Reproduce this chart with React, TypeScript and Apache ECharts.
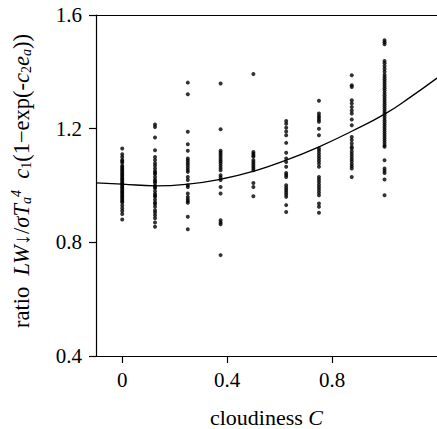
import React, { useEffect, useRef } from "react";
import * as echarts from "echarts";

const xTicks = [0, 0.4, 0.8];
const yTicks = [0.4, 0.8, 1.2, 1.6];

const cloud0 = [1.13, 1.11, 1.1, 1.09, 1.085, 1.08, 1.07, 1.065, 1.06, 1.055, 1.05, 1.045, 1.04, 1.035, 1.03, 1.025, 1.02, 1.015, 1.01, 1.005, 1.0, 0.995, 0.99, 0.985, 0.98, 0.975, 0.97, 0.965, 0.96, 0.955, 0.95, 0.945, 0.94, 0.93, 0.92, 0.91, 0.9, 0.88];
const cloud1 = [1.215, 1.206, 1.169, 1.124, 1.1, 1.09, 1.078, 1.07, 1.06, 1.05, 1.045, 1.04, 1.03, 1.02, 1.015, 1.01, 1.0, 0.995, 0.99, 0.98, 0.97, 0.965, 0.96, 0.95, 0.94, 0.935, 0.925, 0.913, 0.905, 0.895, 0.885, 0.87, 0.855];
const cloud2 = [1.362, 1.321, 1.189, 1.145, 1.122, 1.095, 1.088, 1.08, 1.072, 1.063, 1.055, 1.048, 1.03, 1.019, 1.001, 0.995, 0.972, 0.96, 0.952, 0.945, 0.939, 0.89, 0.846];
const cloud3 = [1.359, 1.198, 1.122, 1.115, 1.108, 1.1, 1.092, 1.085, 1.078, 1.07, 1.062, 1.054, 1.036, 1.028, 1.019, 0.995, 0.972, 0.878, 0.87, 0.864, 0.755];
const cloud4 = [1.392, 1.118, 1.112, 1.106, 1.101, 1.089, 1.082, 1.075, 1.068, 1.061, 1.054, 1.009, 0.995, 0.962];
const cloud5 = [1.227, 1.217, 1.203, 1.19, 1.177, 1.15, 1.115, 1.095, 1.083, 1.066, 1.044, 1.037, 1.03, 1.001, 0.992, 0.984, 0.976, 0.968, 0.96, 0.931, 0.907];
const cloud6 = [1.298, 1.253, 1.245, 1.238, 1.231, 1.224, 1.2, 1.177, 1.13, 1.122, 1.113, 1.104, 1.095, 1.086, 1.077, 1.066, 1.03, 1.021, 1.012, 1.003, 0.994, 0.985, 0.975, 0.966, 0.937, 0.925, 0.904];
const cloud7 = [1.388, 1.353, 1.347, 1.3, 1.289, 1.276, 1.264, 1.253, 1.232, 1.212, 1.171, 1.16, 1.148, 1.136, 1.13, 1.12, 1.111, 1.102, 1.093, 1.085, 1.076, 1.068, 1.06, 1.03];
const cloud8 = [1.511, 1.504, 1.497, 1.438, 1.43, 1.42, 1.41, 1.4, 1.39, 1.382, 1.374, 1.366, 1.358, 1.35, 1.342, 1.334, 1.326, 1.318, 1.31, 1.302, 1.294, 1.286, 1.278, 1.27, 1.262, 1.254, 1.246, 1.238, 1.23, 1.222, 1.214, 1.206, 1.198, 1.19, 1.182, 1.174, 1.166, 1.158, 1.15, 1.142, 1.136, 1.089, 1.06, 1.052, 1.044, 1.021, 0.966];

const cloudLevels = [0, 0.125, 0.25, 0.375, 0.5, 0.625, 0.75, 0.875, 1.0];
const ratioColumns = [cloud0, cloud1, cloud2, cloud3, cloud4, cloud5, cloud6, cloud7, cloud8];

const fitX = [-0.1, 0, 0.125, 0.25, 0.375, 0.5, 0.625, 0.75, 0.875, 1.0, 1.1, 1.2];
const fitY = [1.009, 1.005, 0.999, 1.005, 1.022, 1.05, 1.089, 1.136, 1.191, 1.251, 1.312, 1.378];

const FONT = "'Liberation Serif', 'Times New Roman', serif";

export default function App() {
  const ref = useRef<HTMLDivElement>(null);
  useEffect(() => {
    if (!ref.current) return;
    const chart = echarts.init(ref.current, null, { renderer: "svg" });
    const scatterData: number[][] = [];
    cloudLevels.forEach((c, i) => {
      ratioColumns[i].forEach((v) => scatterData.push([c, v]));
    });
    const lineData = fitX.map((x, i) => [x, fitY[i]]);
    const axisLine = { show: true, onZero: false, lineStyle: { color: "#000", width: 1.2 } };
    const base = { fontFamily: FONT, fontSize: 22.5, color: "#000", lineHeight: 24 };
    const sub = { fontFamily: FONT, fontSize: 14, color: "#000", verticalAlign: "bottom", lineHeight: 14 };
    const subI = { ...sub, fontStyle: "italic" };
    const sup = { fontFamily: FONT, fontSize: 14, color: "#000", verticalAlign: "top", lineHeight: 14, fontStyle: "italic" };
    const it = { ...base, fontStyle: "italic" };
    chart.setOption({
      animation: false,
      textStyle: { fontFamily: FONT },
      grid: { left: 96, top: 15, right: 0, bottom: 73, containLabel: false, outerBoundsMode: "none" },
      graphic: [
        {
          type: "text",
          x: 21,
          y: 181,
          rotation: Math.PI / 2,
          style: {
            text: "{n|ratio  }{i|LW}{n|↓/}{i|σT}{si|a}{p|4}{n|  }{i|c}{s|1}{n|(1−exp(-}{i|c}{s|2}{i|e}{si|a}{n|))}",
            align: "center",
            verticalAlign: "middle",
            fontFamily: FONT,
            rich: { n: base, i: it, s: sub, si: subI, p: sup },
          },
        },
      ],
      xAxis: [
        {
          type: "value",
          min: -0.1,
          max: 1.2,
          position: "bottom",
          splitLine: { show: false },
          axisLine,
          axisTick: { show: true, length: 7, lineStyle: { color: "#000", width: 1.2 }, customValues: xTicks },
          axisLabel: { customValues: xTicks, fontFamily: FONT, fontSize: 21, color: "#000", margin: 13, formatter: (v: number) => String(v) },
          name: "{n|cloudiness }{i|C}",
          nameLocation: "middle",
          nameGap: 50,
          nameTextStyle: { fontFamily: FONT, rich: { n: { fontFamily: FONT, fontSize: 22, color: "#000" }, i: { fontFamily: FONT, fontSize: 22, color: "#000", fontStyle: "italic" } } },
        },
        {
          type: "value",
          min: -0.1,
          max: 1.2,
          position: "top",
          splitLine: { show: false },
          axisLine,
          axisTick: { show: false },
          axisLabel: { show: false },
        },
      ],
      yAxis: {
        type: "value",
        min: 0.4,
        max: 1.6,
        interval: 0.4,
        splitLine: { show: false },
        axisLine,
        axisTick: { show: true, length: 7, lineStyle: { color: "#000", width: 1.2 } },
        axisLabel: { fontFamily: FONT, fontSize: 21, color: "#000", margin: 14, formatter: (v: number) => v.toFixed(1) },
      },
      series: [
        {
          type: "scatter",
          data: scatterData,
          symbol: "circle",
          symbolSize: 4,
          itemStyle: { color: "#000" },
          xAxisIndex: 0,
        },
        {
          type: "line",
          data: lineData,
          smooth: true,
          showSymbol: false,
          lineStyle: { color: "#000", width: 1.3 },
          xAxisIndex: 0,
        },
      ],
    });
    return () => chart.dispose();
  }, []);
  return <div ref={ref} style={{ position: "absolute", left: 0, top: 0, width: 437, height: 429, background: "#fff" }} />;
}
